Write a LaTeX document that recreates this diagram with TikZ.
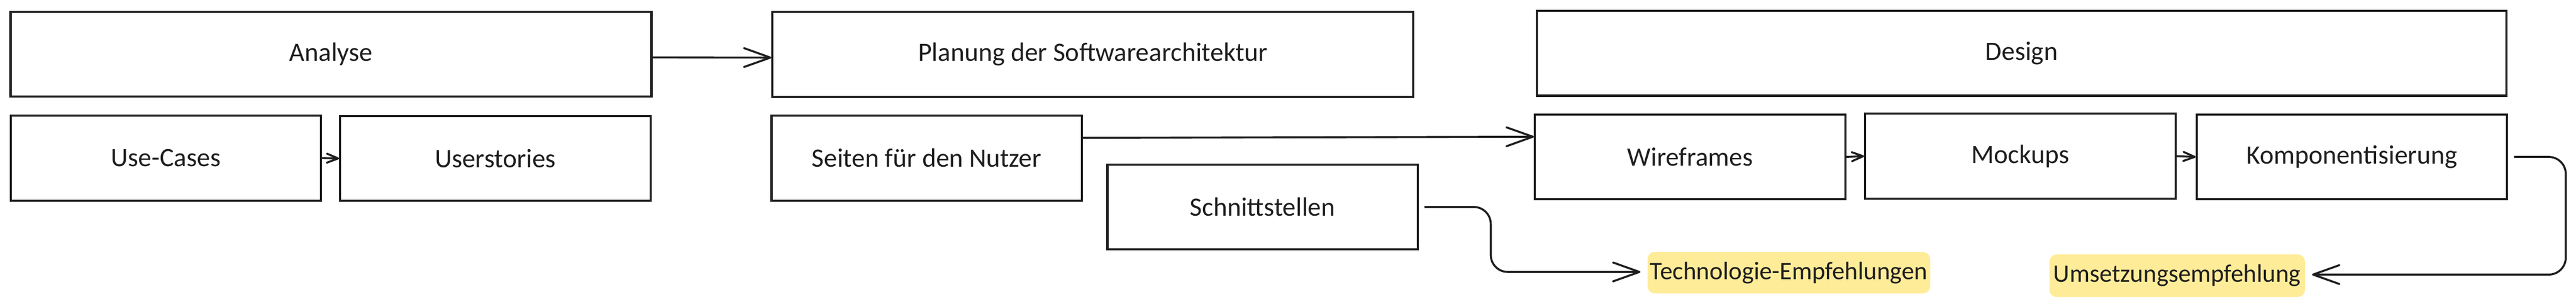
\documentclass[tikz,border=0pt]{standalone}
\usepackage{fontspec}
\setmainfont{Carlito}
\usetikzlibrary{arrows.meta}

\definecolor{ink}{HTML}{1E1E1E}
\definecolor{marker}{HTML}{FFEC99}

\tikzset{
	phase/.style={draw=ink, line width=1.6pt, minimum width=8.23cm, minimum height=2.25cm,
		inner sep=0pt, text=ink, font=\fontsize{20}{24}\selectfont},
	wide/.style={phase, minimum width=17cm},
	note/.style={fill=marker, rounded corners=0.2cm, minimum height=1.1cm, inner sep=0pt,
		text=ink, font=\fontsize{19}{23}\selectfont},
	flow/.style={draw=ink, line width=1.5pt, -{Straight Barb[length=0.7cm, width=0.5cm, round]}},
	link/.style={draw=ink, line width=1.5pt, -{Straight Barb[length=0.3cm, width=0.24cm, round]}}
}

\begin{document}
\begin{tikzpicture}
			\useasboundingbox (0, 0) rectangle (68.33, -8.04);
			
			% top row
			\node[wide] (ana) at (8.78, -1.435) {Analyse};
			\node[wide] (plan) at (28.99, -1.44) {Planung der Softwarearchitektur};
			\node[wide, minimum width=25.73cm] (des) at (53.625, -1.41) {Design};
			
			% second row
			\node[phase] (uc) at (4.40, -4.185) {Use-Cases};
			\node[phase] (us) at (13.14, -4.195) {Userstories};
			\node[phase] (seiten) at (24.58, -4.185) {Seiten für den Nutzer};
			\node[phase] (schnitt) at (33.49, -5.48) {Schnittstellen};
			\node[phase] (wire) at (44.83, -4.155) {Wireframes};
			\node[phase] (mock) at (53.59, -4.135) {Mockups};
			\node[phase] (komp) at (62.385, -4.155) {Komponentisierung};
			
			% results
			\node[note, minimum width=7.5cm] (tech) at (47.45, -7.22) {Technologie-Empfehlungen};
			\node[note, minimum width=6.78cm, minimum height=1.13cm] (ums) at (57.75, -7.30) {Umsetzungsempfehlung};
			
			\draw[flow] ([yshift=-0.085cm]ana.east) -- ([yshift=-0.085cm]plan.west);
			\draw[link] (uc.east) -- (us.west);
			\draw[flow] ([yshift=0.535cm]seiten.east) -- ([yshift=0.535cm]wire.west);
			\draw[link] (wire.east) -- (mock.west);
			\draw[link] (mock.east) -- (komp.west);
			
			\draw[flow, rounded corners=0.45cm] ([xshift=0.15cm]schnitt.east) -- ++(1.76, 0) |- ([xshift=-0.18cm, yshift=0.02cm]tech.west);
			\draw[flow, rounded corners=0.45cm] ([xshift=0.16cm]komp.east) -- ++(1.37, 0) |- ([xshift=0.18cm, yshift=0.03cm]ums.east);
		\end{tikzpicture}
\end{document}
